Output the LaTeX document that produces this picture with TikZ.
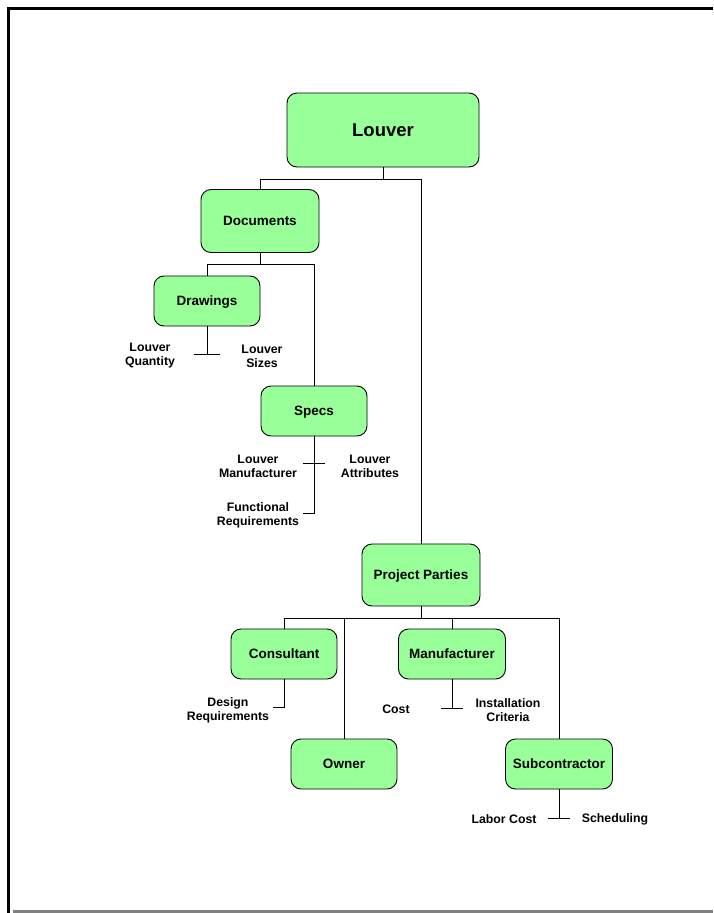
\documentclass[tikz,border=0pt]{standalone}
\usepackage{fontspec}
\setmainfont{Liberation Sans}
\usetikzlibrary{positioning}
\definecolor{boxgreen}{RGB}{153,255,153}

\begin{document}
\begin{tikzpicture}[x=1pt, y=-1pt,
    box/.style={draw=black, fill=boxgreen, rounded corners=10pt, line width=0.9pt,
      minimum width=106pt, minimum height=50pt, inner sep=2pt, text depth=0pt,
      font=\bfseries\fontsize{13.5}{15}\selectfont},
    leaf/.style={align=center, inner sep=1pt, font=\bfseries\fontsize{12.3}{14}\selectfont},
    link/.style={line width=0.9pt}]
    % page frame
    \useasboundingbox (0,0) rectangle (713,913);
    \draw [line width=3pt] (8.5,913) -- (8.5,8.5) -- (713,8.5);
    \draw [line width=3pt, gray] (13,911.5) -- (713,911.5);

    % boxes
    \node [box, minimum width=192pt, minimum height=74pt,
      font=\bfseries\fontsize{18.5}{20}\selectfont] (louver) at (383,130) {Louver};
    \node [box, minimum width=118pt, minimum height=63pt] (docs) at (260,221) {Documents};
    \node [box] (drawings) at (207,301) {Drawings};
    \node [box] (specs) at (314,411) {Specs};
    \node [box, minimum width=118pt, minimum height=62pt] (parties) at (421,575) {Project Parties};
    \node [box] (consultant) at (284,654) {Consultant};
    \node [box, minimum width=107pt] (manufacturer) at (452,654) {Manufacturer};
    \node [box] (owner) at (344,764) {Owner};
    \node [box, minimum width=107pt] (subcontractor) at (559,764) {Subcontractor};

    % tree links
    \draw [link] (louver.south) -- ++(0,12) -| (docs.north);
    \draw [link] (louver.south) ++(0,12) -| (parties.north);
    \draw [link] (docs.south) -- ++(0,11) -| (drawings.north);
    \draw [link] (docs.south) ++(0,11) -| (specs.north);
    \draw [link] (parties.south) -- ++(0,12) -| (consultant.north);
    \draw [link] (parties.south) ++(0,12) -| (owner.north);
    \draw [link] (parties.south) ++(0,12) -| (manufacturer.north);
    \draw [link] (parties.south) ++(0,12) -| (subcontractor.north);

    % attributes
    \draw [link] (drawings.south) -- ++(0,28) coordinate (drawtee);
    \draw [link] ([xshift=-13pt]drawtee) -- ([xshift=13pt]drawtee);
    \node [leaf] (quantity) at (150,356) {Louver\\Quantity};
    \node [leaf] (sizes) at (262,356) {Louver\\Sizes};

    \draw [link] (specs.south) -- ++(0,77) -- ++(-11,0);
    \draw [link] (303,463) -- (325,463);
    \node [leaf] (maker) at (258,466) {Louver\\Manufacturer};
    \node [leaf] (attributes) at (370,466) {Louver\\Attributes};
    \node [leaf] (functional) at (258,515) {Functional\\Requirements};

    \draw [link] (consultant.south) -- ++(0,28) -- ++(-11,0);
    \node [leaf] (design) at (228,710) {Design\\Requirements};

    \draw [link] (manufacturer.south) -- ++(0,29) coordinate (mantee);
    \draw [link] ([xshift=-11pt]mantee) -- ([xshift=11pt]mantee);
    \node [leaf] (cost) at (396,709) {Cost};
    \node [leaf] (install) at (508,710) {Installation\\Criteria};

    \draw [link] (subcontractor.south) -- ++(0,29) coordinate (subtee);
    \draw [link] ([xshift=-11pt]subtee) -- ([xshift=11pt]subtee);
    \node [leaf] (labor) at (504,819) {Labor Cost};
    \node [leaf] (scheduling) at (615,819) {Scheduling};
\end{tikzpicture}
\end{document}
